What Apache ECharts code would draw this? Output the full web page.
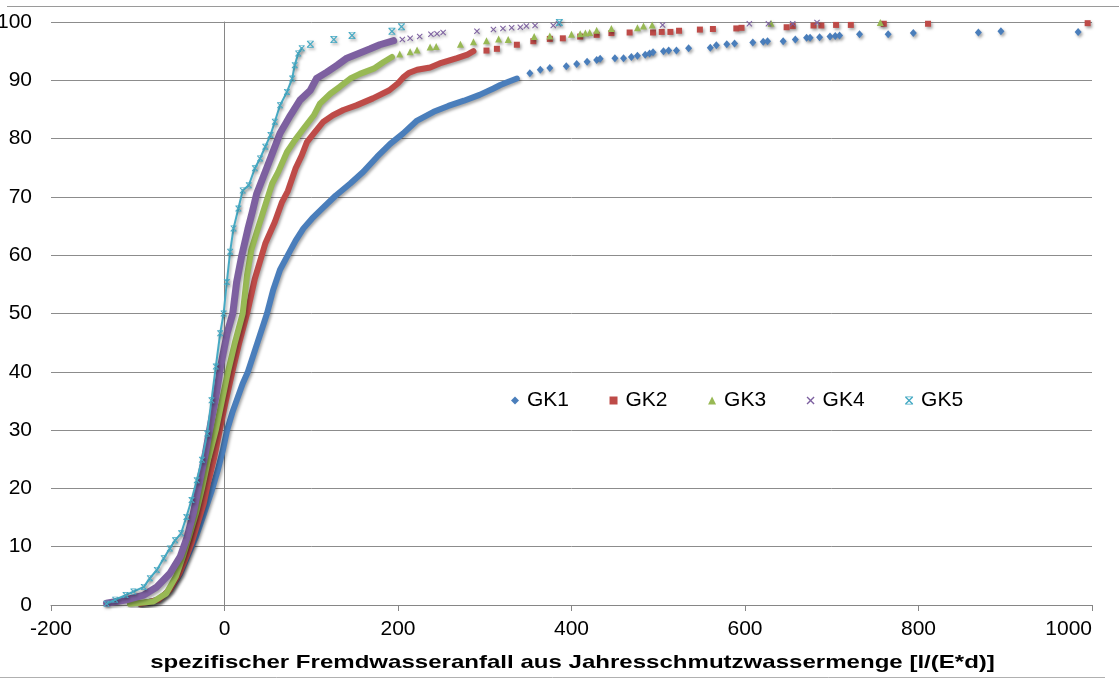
<!DOCTYPE html>
<html>
<head>
<meta charset="utf-8">
<script src="https://cdn.jsdelivr.net/npm/echarts@6/dist/echarts.min.js"></script>
<style>
html,body{margin:0;padding:0;background:#fff;}
#chart{width:1119px;height:679px;}
</style>
</head>
<body>
<div id="chart"></div>
<script>
// ---- data (x = l/(E*d), y = %) ----
const seriesNames = ['GK1', 'GK2', 'GK3', 'GK4', 'GK5'];
const xTicks = [-200, 0, 200, 400, 600, 800, 1000];
const yTicks = [0, 10, 20, 30, 40, 50, 60, 70, 80, 90, 100];
const xTitle = 'spezifischer Fremdwasseranfall aus Jahresschmutzwassermenge [l/(E*d)]';

const gk1Dense = [[-97,0.2],[-76,0.9],[-63,2.6],[-51,5.4],[-41,8.9],[-33,11.7],[-25,15.1],[-15,19.5],[-8,23],[-2,26.5],[3,30],[9,33],[15,35.5],[21,38],[27,40],[38,45],[49,50],[56,54],[64,57.5],[73,60],[82,62.5],[91,64.6],[101,66.3],[114,68.2],[128,70.2],[145,72.3],[160,74.3],[176,76.9],[191,79.1],[206,80.9],[222,83.1],[241,84.6],[258,85.6],[276,86.5],[294,87.5],[310,88.6],[318,89.2],[328,89.8],[337,90.3]];
const gk1Tail = [[352,91.2],[364,91.8],[375,92.1],[394,92.4],[406,92.8],[418,93.2],[429,93.5],[433,93.7],[450,93.8],[460,93.8],[469,94],[476,94.2],[485,94.4],[490,94.6],[494,94.8],[506,95],[512,95.1],[521,95.1],[535,95.5],[560,95.6],[567,96],[579,96.2],[588,96.3],[609,96.5],[621,96.6],[626,96.7],[644,96.7],[658,97],[671,97.3],[675,97.3],[686,97.4],[698,97.5],[704,97.6],[709,97.7],[732,97.9],[765,97.9],[794,98.1],[869,98.2],[895,98.4],[984,98.3]];

const gk2Dense = [[-97,0.2],[-76,0.9],[-63,2.6],[-52,5.4],[-44,8.3],[-38,10.6],[-31,14],[-24,17.4],[-19,20.9],[-12,25.2],[-5.5,30],[1.5,35],[9,40],[17,45],[26,50],[35,56],[47,62],[58,65.7],[66,69],[73,71],[82,74.9],[89,77.1],[95,79.4],[103,80.9],[114,82.9],[125,84],[137,84.9],[152,85.7],[171,86.9],[190,88.3],[200,89.5],[206,90.5],[213,91.3],[222,91.8],[237,92.2],[248,92.9],[268,93.8],[280,94.4],[287,95]];
const gk2Tail = [[302,95.1],[314,95.4],[337,96.1],[356,96.7],[375,97.1],[390,97.2],[410,97.5],[429,97.8],[446,98.1],[467,98.2],[494,98.2],[504,98.3],[514,98.3],[524,98.5],[548,98.7],[563,98.8],[590,98.9],[596,99],[648,99.1],[655,99.3],[679,99.4],[688,99.4],[705,99.5],[722,99.5],[760,99.7],[811,99.7],[995,99.8]];

const gk3Dense = [[-109,0.2],[-82,0.6],[-67,2],[-56,4.9],[-48,8.3],[-41,11.7],[-33,15.7],[-26,20],[-19,24.9],[-10,30],[-3,35],[4,40],[12,45],[21,50],[26,56.6],[31,61],[40,65.3],[50,70],[55,72.3],[62,74.3],[72,77.7],[81,79.7],[91,81.7],[103,84],[110,86],[122,87.7],[133,88.9],[145,90.3],[156,91.1],[172,92],[183,93.1],[193,94]];
const gk3Tail = [[202,94.5],[214,94.9],[222,95.2],[237,95.7],[244,95.8],[272,96.2],[287,96.6],[302,96.8],[316,97.1],[327,97],[357,97.5],[375,97.6],[400,97.9],[410,98],[416,98.1],[421,98.2],[429,98.6],[446,98.9],[476,99],[483,99.3],[493,99.5],[630,99.8],[756,99.9]];

const gk4Dense = [[-136,0.3],[-113,0.9],[-93,1.7],[-78,3.1],[-63,5.4],[-51,8.3],[-43,11.7],[-36,15.7],[-29,20.9],[-22,26],[-16.5,30.6],[-10,35.7],[-4.5,40.9],[3,46.6],[9.5,50],[14,55.4],[20,60],[27,64.5],[32,67.4],[37,70.5],[47,74.3],[55,77.4],[64,80.9],[76,84],[87,86.6],[99,88.3],[106,90.3],[118,91.4],[130,92.6],[141,93.8],[156,94.7],[168,95.4],[179,96.1],[195,96.8]];
const gk4Tail = [[205,97],[214,97.2],[225,97.5],[238,97.9],[245,98],[252,98.2],[291,98.4],[310,98.7],[321,98.9],[331,99],[341,99.1],[348,99.3],[358,99.4],[379,99.4],[385,99.7],[505,99.5],[605,99.7],[627,99.7],[655,99.7],[683,99.9]];

const gk5Dense = [[-136,0.2],[-126,0.9],[-114,1.7],[-105,2.3],[-93,3.1],[-86,4.6],[-78,6],[-70,8],[-63,9.7],[-57,11.1],[-50,12.3],[-44,15.1],[-38,18],[-32,21.4],[-26,24.9],[-20,29.4],[-15,35.1],[-10,40.9],[-5,46.6],[-1,50],[2.7,55.4],[6.5,60.6],[10.4,64.6],[16,68],[21,71.1],[28,72],[35,74.9],[41,76.6],[47,78.6],[53,80.6],[58,82.9],[64,85.7],[72,88],[78,90.3],[81,92.6],[85,94.6],[89,95.5]];
const gk5Tail = [[99,96.2],[126,97],[147,97.7],[193,98.4],[204,99.2],[386,99.9]];

const colors = ['#4a7ebb', '#be4b48', '#98b954', '#7d60a0', '#46aac4'];
// ---- end data ----

const xPath = 'path://M0,1.2 L1.2,0 L5,3.8 L8.8,0 L10,1.2 L6.2,5 L10,8.8 L8.8,10 L5,6.2 L1.2,10 L0,8.8 L3.8,5 Z';
const starPath = 'path://M0,1.2 L1.2,0 L5,3.8 L8.8,0 L10,1.2 L6.2,5 L10,8.8 L8.8,10 L5,6.2 L1.2,10 L0,8.8 L3.8,5 Z M0,0 L10,0 L10,1 L0,1 Z M0,9 L10,9 L10,10 L0,10 Z';
const symbols = ['diamond', 'rect', 'triangle', xPath, starPath];
const symSizes = [[7, 8], 6, 7, 6, 7];
const dense = [gk1Dense, gk2Dense, gk3Dense, gk4Dense, gk5Dense];
const tails = [gk1Tail, gk2Tail, gk3Tail, gk4Tail, gk5Tail];
const lineWidths = [6, 6, 6, 7, 2];

const shadow = {shadowColor: 'rgba(0,0,0,0.35)', shadowBlur: 3, shadowOffsetX: 1.5, shadowOffsetY: 2};

const series = [];
seriesNames.forEach((name, i) => {
  const isCyan = i === 4;
  series.push({
    name: name,
    type: 'line',
    data: dense[i],
    showSymbol: isCyan,
    symbol: symbols[i],
    symbolSize: isCyan ? 6 : symSizes[i],
    smooth: false,
    z: 2 + i,
    itemStyle: Object.assign({color: colors[i]}, shadow),
    lineStyle: Object.assign({color: colors[i], width: lineWidths[i], join: 'round', cap: 'round'}, shadow),
    emphasis: {disabled: true},
    animation: false
  });
  series.push({
    name: name,
    type: 'scatter',
    data: tails[i],
    symbol: symbols[i],
    symbolSize: symSizes[i],
    z: 2 + i,
    itemStyle: Object.assign({color: colors[i], opacity: 1}, shadow),
    emphasis: {disabled: true},
    animation: false
  });
});

const font = 'Liberation Sans, Arial, sans-serif';
const chart = echarts.init(document.getElementById('chart'), null, {renderer: 'canvas'});
chart.setOption({
  animation: false,
  backgroundColor: '#ffffff',
  color: colors,
  grid: {left: 51, right: 27, top: 22, bottom: 74, containLabel: false, outerBoundsMode: 'none'},
  legend: {
    data: seriesNames.map((n, i) => ({name: n, icon: symbols[i], itemStyle: {color: colors[i]}})),
    left: 506, top: 385,
    itemWidth: 8, itemHeight: 8, itemGap: 40.5,
    textStyle: {fontFamily: font, fontSize: 21, color: '#000', padding: [0, 0, 0, 3]},
    selectedMode: false
  },
  xAxis: {
    type: 'value', min: -200, max: 1000, interval: 200,
    axisLine: {show: true, onZero: false, lineStyle: {color: '#868686', width: 1}},
    axisTick: {show: true, length: 6, lineStyle: {color: '#868686'}},
    axisLabel: {fontFamily: font, fontSize: 21, color: '#000', margin: 14, alignMaxLabel: 'right',
      formatter: v => xTicks.includes(v) ? String(v) : ''},
    splitLine: {show: false}
  },
  yAxis: {
    type: 'value', min: 0, max: 100, interval: 10,
    axisLine: {show: true, onZero: true, lineStyle: {color: '#868686', width: 1}},
    axisTick: {show: false},
    axisLabel: {fontFamily: font, fontSize: 21, color: '#000', margin: 19,
      formatter: v => yTicks.includes(v) ? String(v) : ''},
    splitLine: {show: true, lineStyle: {color: '#8c8c8c', width: 1}}
  },
  graphic: [
    {type: 'line', shape: {x1: 7, y1: 6.5, x2: 1119, y2: 6.5}, style: {stroke: '#9a9a9a', lineWidth: 1}, silent: true},
    {type: 'line', shape: {x1: 0, y1: 677.5, x2: 1105, y2: 677.5}, style: {stroke: '#b0b0b0', lineWidth: 1}, silent: true},
    {type: 'text', x: 572.5, y: 663, scaleX: 1.3, originX: 0, originY: 0, silent: true,
      style: {text: xTitle, font: 'bold 18.5px Liberation Sans, Arial, sans-serif', fill: '#000',
        textAlign: 'center', textVerticalAlign: 'middle'}}
  ],
  series: series
});
</script>
</body>
</html>
